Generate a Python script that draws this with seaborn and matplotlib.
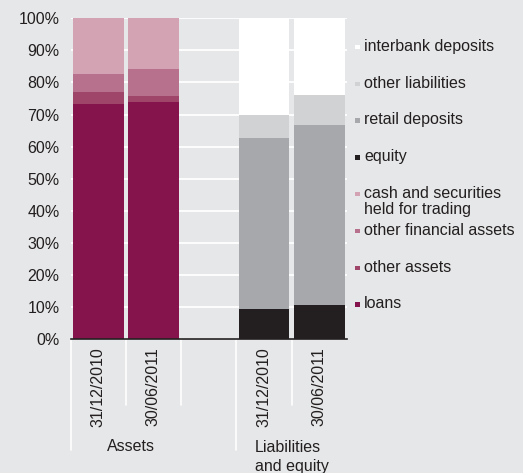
import pandas as pd
import numpy as np

import matplotlib.pyplot as plt
import matplotlib.transforms as mtransforms
from matplotlib.patches import Rectangle
import seaborn as sns

# bars (the "gap" slot stays empty between the two groups)
bars = ["A 31/12/2010", "A 30/06/2011", "gap", "L 31/12/2010", "L 30/06/2011"]
dates = ["31/12/2010", "30/06/2011", "31/12/2010", "30/06/2011"]

# asset side, % of total, bottom to top
loans = [73.3, 73.9]
other_assets = [3.75, 1.8]
other_fin_assets = [5.65, 8.5]
cash_trading = [17.3, 15.8]

# liabilities and equity side, bottom to top
equity = [9.45, 10.7]
retail_deposits = [53.25, 56.1]
other_liabilities = [7.2, 9.3]
interbank_deposits = [30.1, 23.9]

bg = "#e6e7e8"
ink = "#231f20"
colors = {
    "loans": "#86144c",
    "other assets": "#9e4569",
    "other financial assets": "#b8718c",
    "cash and securities\nheld for trading": "#d4a3b3",
    "equity": "#231f20",
    "retail deposits": "#a7a8ab",
    "other liabilities": "#d1d2d4",
    "interbank deposits": "#ffffff",
}

asset_series = [("loans", loans), ("other assets", other_assets),
                ("other financial assets", other_fin_assets),
                ("cash and securities\nheld for trading", cash_trading)]
liab_series = [("equity", equity), ("retail deposits", retail_deposits),
               ("other liabilities", other_liabilities),
               ("interbank deposits", interbank_deposits)]

rows = []
for group, series, names in [("A", asset_series, bars[:2]), ("L", liab_series, bars[3:])]:
    for j, bar in enumerate(names):
        cum = 0
        for level, (name, vals) in enumerate(series):
            cum += vals[j]
            rows.append({"bar": bar, "series": name, "level": level, "top": cum})
df = pd.DataFrame(rows)

sns.set_style("white")
plt.rcParams["font.family"] = ["Liberation Sans", "DejaVu Sans"]

fig = plt.figure(figsize=(5.23, 4.73), dpi=100, facecolor=bg)
ax = fig.add_axes([70.5 / 523, 1 - 339.3 / 473, (347 - 70.5) / 523, (339.3 - 18.3) / 473])
ax.set_facecolor(bg)

# draw the tallest cumulative layer first so lower layers sit on top
for level in [3, 2, 1, 0]:
    for name in df.loc[df["level"] == level, "series"].unique():
        sub = df[df["series"] == name]
        sns.barplot(data=sub, x="bar", y="top", order=bars, color=colors[name],
                    saturation=1, width=0.92, linewidth=0, ax=ax, errorbar=None)

ax.set_xlim(-0.5, 4.5)
ax.set_ylim(0, 100)
ax.set_yticks(np.arange(0, 101, 10))
ax.set_yticklabels([f"{v}%" for v in range(0, 101, 10)])
ax.yaxis.grid(True, color="white", lw=1.3)
ax.set_axisbelow(True)
ax.set_xticks([0, 1, 3, 4])
ax.set_xticklabels(dates, rotation=90)
ax.set_xlabel("")
ax.set_ylabel("")
ax.tick_params(axis="y", length=0, pad=8, labelsize=11.5, labelcolor=ink)
ax.tick_params(axis="x", length=0, pad=6, labelsize=11.5, labelcolor=ink)
for s in ["top", "right", "left"]:
    ax.spines[s].set_visible(False)
ax.spines["bottom"].set_color(ink)
ax.spines["bottom"].set_linewidth(1.2)

# separators under the axis
trans = mtransforms.blended_transform_factory(ax.transData, ax.transAxes)
short = (405 - 339.3) / 321
long = (450 - 339.3) / 321
for xb in [-0.5, 0.5, 1.5, 2.5, 3.5]:
    depth = long if xb in (-0.5, 2.5) else short
    ax.plot([xb, xb], [0, -depth], color="white", lw=1.2, transform=trans, clip_on=False)

ax.text(0.6, -(446 - 339.3) / 321, "Assets", transform=trans, ha="center", va="center",
        fontsize=11.5, color=ink)
ax.text(3.5, -(440 - 339.3) / 321, "Liabilities\nand equity", transform=trans, ha="center",
        va="top", multialignment="left", fontsize=11.5, color=ink, linespacing=1.3)

# legend drawn by hand, top to bottom
legend_order = ["interbank deposits", "other liabilities", "retail deposits", "equity",
                "cash and securities\nheld for trading", "other financial assets",
                "other assets", "loans"]
for i, name in enumerate(legend_order):
    base = 50.7 + 36.8 * i
    for k, line in enumerate(name.split("\n")):
        fig.text(364 / 523, 1 - (base + 16 * k) / 473, line, ha="left", va="baseline",
                 fontsize=11.5, color=ink)
    fig.patches.append(Rectangle((355 / 523, 1 - (base - 1.5) / 473), 4.5 / 523, 4.5 / 473,
                                 transform=fig.transFigure, color=colors[name], lw=0))

fig.savefig("out.png", dpi=100, facecolor=bg)
